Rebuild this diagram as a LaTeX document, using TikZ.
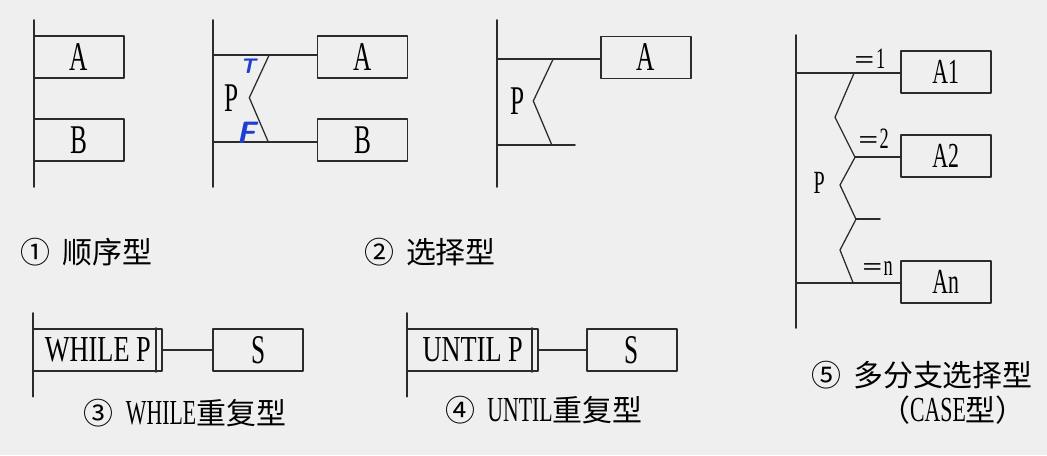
\documentclass[tikz,border=0pt]{standalone}
\usepackage{fontspec}
\setmainfont[FakeStretch=0.62]{Liberation Serif}
\newfontfamily\widefont[FakeStretch=0.72]{Liberation Serif}
\newfontfamily\cjk{Noto Sans CJK SC}
\usetikzlibrary{calc}

\definecolor{paper}{HTML}{EFEFEF}
\definecolor{ink}{HTML}{2B2B2B}
\definecolor{pen}{HTML}{1F3FD0}

% Chinese text at label size
\newcommand{\zh}[1]{{\cjk\fontsize{21.3}{25}\selectfont #1}}

\begin{document}
\begin{tikzpicture}[x=0.025cm, y=-0.025cm, line cap=round, line join=round,
  rail/.style={draw=ink, line width=1.3pt},
  zig/.style={draw=ink, line width=0.9pt},
  box/.style={draw=ink, line width=1.2pt, minimum width=2.25cm, minimum height=1.05cm,
    inner sep=0pt, font={\fontsize{29}{32}\selectfont}},
  casebox/.style={box, font={\fontsize{25}{28}\selectfont}},
  loopbox/.style={box, font={\widefont\fontsize{26}{29}\selectfont}},
  cond/.style={inner sep=0pt, font={\fontsize{29}{32}\selectfont}},
  eqlbl/.style={inner sep=0pt, font={\fontsize{21}{23}\selectfont}},
  lbl/.style={inner sep=0pt, font={\fontsize{25}{28}\selectfont}},
  hand/.style={inner sep=0pt, text=pen, font={\sffamily\itshape\bfseries}}]

  % page
  \fill[paper] (0,0) rectangle (1047,455);
  \useasboundingbox (0,0) rectangle (1047,455);

  % (1) sequence
  \coordinate (v1t) at (34,20);
  \coordinate (v1b) at (34,187);
  \draw[rail] (v1t) -- (v1b);
  \node[box] (seqA) at (79,56.7) {A};
  \node[box] (seqB) at (79,140.3) {B};
  \node[lbl] (seqL) at (86.5,251.7) {\zh{①}\hspace{0.3cm}\zh{顺序型}};

  % (2) selection, two branches
  \coordinate (v2t) at (213,20);
  \coordinate (v2b) at (213,187);
  \draw[rail] (v2t) -- (v2b);
  \node[box] (selA) at (362.5,56.7) {A};
  \node[box] (selB) at (362.5,140.3) {B};
  \coordinate (selT) at (213,54.7);
  \coordinate (selF) at (213,142);
  \draw[rail] (selT) -- (selT -| selA.west);
  \draw[rail] (selF) -- (selF -| selB.west);
  \coordinate (zs1) at (269.3,54.7);
  \coordinate (zs2) at (249.3,97.7);
  \coordinate (zs3) at (268.3,142);
  \draw[zig] (zs1) -- (zs2) -- (zs3);
  \node[cond] (selP) at (231.7,98) {P};
  \node[hand, font={\sffamily\itshape\bfseries\fontsize{15}{16}\selectfont}] (selTl) at (248,66) {T};
  \node[hand, font={\sffamily\itshape\bfseries\fontsize{22}{24}\selectfont}] (selFl) at (246,133) {F};
  \node[lbl] (selL) at (430,251.7) {\zh{②}\hspace{0.3cm}\zh{选择型}};

  % (2') selection, one branch
  \coordinate (v3t) at (497.3,20);
  \coordinate (v3b) at (497.3,187);
  \draw[rail] (v3t) -- (v3b);
  \node[box] (oneA) at (646,57.5) {A};
  \coordinate (oneT) at (497.3,58.7);
  \coordinate (oneF) at (497.3,144.7);
  \coordinate (oneE) at (575,144.7);
  \draw[rail] (oneT) -- (oneT -| oneA.west);
  \draw[rail] (oneF) -- (oneE);
  \coordinate (zo1) at (553.3,58.7);
  \coordinate (zo2) at (533.3,101);
  \coordinate (zo3) at (551.7,144.7);
  \draw[zig] (zo1) -- (zo2) -- (zo3);
  \node[cond] (oneP) at (517.3,101) {P};

  % (3) WHILE loop
  \coordinate (v4t) at (33.3,313);
  \coordinate (v4b) at (33.3,396.7);
  \draw[rail] (v4t) -- (v4b);
  \node[loopbox, minimum width=3.225cm] (whl) at (97.8,350) {WHILE P\hspace{0.15cm}};
  \draw[rail] ($(whl.north east)+(-7,0)$) -- ($(whl.south east)+(-7,0)$);
  \node[box] (whlS) at (258.3,350) {S};
  \draw[rail] (whl) -- (whlS);
  \node[lbl] (whlL) at (185,413) {\zh{③}\hspace{0.3cm}WHILE\zh{重复型}};

  % (4) UNTIL loop
  \coordinate (v5t) at (407.3,313);
  \coordinate (v5b) at (407.3,396.7);
  \draw[rail] (v5t) -- (v5b);
  \node[loopbox, minimum width=3.275cm] (unt) at (472.8,350) {UNTIL P\hspace{0.15cm}};
  \draw[rail] ($(unt.north east)+(-7,0)$) -- ($(unt.south east)+(-7,0)$);
  \node[box] (untS) at (632,350) {S};
  \draw[rail] (unt) -- (untS);
  \node[lbl] (untL) at (544,410) {\zh{④}\hspace{0.3cm}UNTIL\zh{重复型}};

  % (5) CASE
  \coordinate (v6t) at (796,35);
  \coordinate (v6b) at (796,328);
  \draw[rail] (v6t) -- (v6b);
  \node[casebox] (caseA) at (945.7,72.2) {A1};
  \node[casebox] (caseB) at (945.7,156.2) {A2};
  \node[casebox] (caseN) at (945.7,281.7) {An};
  \coordinate (c1) at (796,73.3);
  \coordinate (c2) at (855,157.3);
  \coordinate (c3) at (856,219.3);
  \coordinate (c3e) at (880,219.3);
  \coordinate (cn) at (796,283.3);
  \draw[rail] (c1) -- (c1 -| caseA.west);
  \draw[rail] (c2) -- (c2 -| caseB.west);
  \draw[rail] (c3) -- (c3e);
  \draw[rail] (cn) -- (cn -| caseN.west);
  \draw[zig] (854,73.3) -- (835,117.3) -- (c2) -- (840,185) -- (c3) -- (840,250) -- (853.3,283.3);
  \node[cond, font={\fontsize{23}{26}\selectfont}] (caseP) at (819.3,183.3) {P};
  \node[eqlbl] (eq1) at (869.5,58.3) {{\cjk\fontsize{16}{18}\selectfont ＝}1};
  \node[eqlbl] (eq2) at (873,138.3) {{\cjk\fontsize{16}{18}\selectfont ＝}2};
  \node[eqlbl] (eqn) at (877,268.3) {{\cjk\fontsize{16}{18}\selectfont ＝}n};
  \node[lbl] (caseL) at (922,375) {\zh{⑤}\hspace{0.3cm}\zh{多分支选择型}};
  \node[lbl] (caseL2) at (953,410) {\zh{（}CASE\zh{型）}};

\end{tikzpicture}
\end{document}
